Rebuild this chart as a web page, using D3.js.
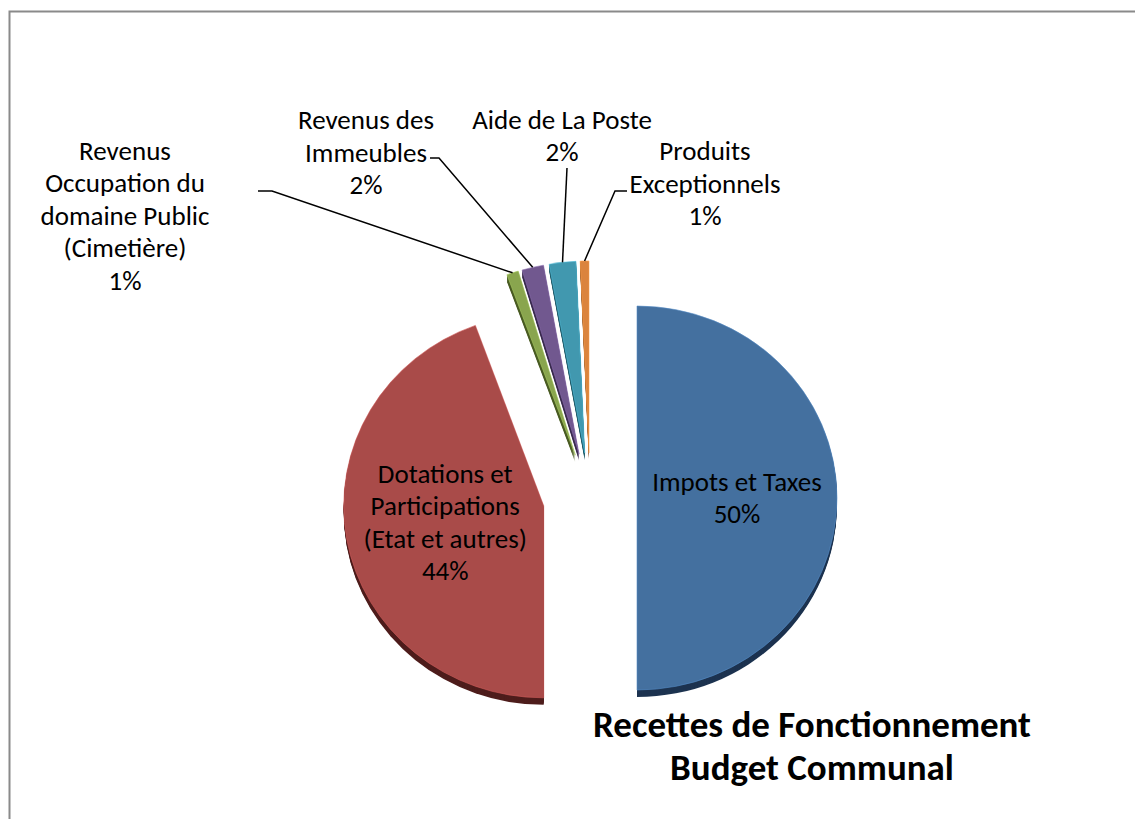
<!DOCTYPE html>
<html lang="fr">
<head>
<meta charset="UTF-8">
<title>Recettes de Fonctionnement</title>
<script src="https://d3js.org/d3.v7.min.js"></script>
<style>
  body { margin: 0; background: #fff; }
  text { font-family: Carlito, Calibri, "Open Sans", sans-serif; fill: #000; }
</style>
</head>
<body>
<svg width="1135" height="819"></svg>
<script>
// data
const categories = ["Impots et Taxes", "Dotations et Participations (Etat et autres)",
  "Revenus Occupation du domaine Public (Cimetière)", "Revenus des Immeubles",
  "Aide de La Poste", "Produits Exceptionnels"];
const values = [50.0, 44.45, 0.95, 1.75, 2.15, 0.7];
const labelLines = [
  ["Impots et Taxes", "50%"],
  ["Dotations et", "Participations", "(Etat et autres)", "44%"],
  ["Revenus", "Occupation du", "domaine Public", "(Cimetière)", "1%"],
  ["Revenus des", "Immeubles", "2%"],
  ["Aide de La Poste", "2%"],
  ["Produits", "Exceptionnels", "1%"]
];

// styles
const topColors = ["#44709f", "#a94b49", "#89a54e", "#71588f", "#4198af", "#db843d"];
const sideColors = ["#1d3350", "#4e1d1c", "#4a5c24", "#3a2b4f", "#1f5866", "#7d4519"];

const svg = d3.select("svg");

// chart frame (runs off the right and bottom edges)
svg.append("rect")
    .attr("x", 9.5).attr("y", 11.5)
    .attr("width", 1200).attr("height", 900)
    .attr("fill", "none")
    .attr("stroke", "#8a8a8a")
    .attr("stroke-width", 2);

const cx = 590, cy = 498;   // pie centre
const r = 200;              // outer radius
const ky = 0.96;            // vertical squash of the tilted pie
const explode = 47;
const depth = 7;

const pie = d3.pie().sort(null).value(d => d);
const arcs = pie(values);
const arc = d3.arc().innerRadius(0).outerRadius(r);

// apex of each exploded slice
function apex(a) {
    const m = (a.startAngle + a.endAngle) / 2;
    return [cx + explode * Math.sin(m), cy - explode * Math.cos(m) * ky];
}
// point on the outer rim at mid angle
function rimPoint(a) {
    const m = (a.startAngle + a.endAngle) / 2;
    const p = apex(a);
    return [p[0] + r * Math.sin(m), p[1] - r * Math.cos(m) * ky];
}

// side walls: stack of shifted copies
const sides = svg.append("g");
arcs.forEach((a, i) => {
    const p = apex(a);
    for (let d = depth; d >= 1; d--) {
        sides.append("path")
            .attr("transform", `translate(${p[0]},${p[1] + d}) scale(1,${ky})`)
            .attr("d", arc(a))
            .attr("fill", sideColors[i]);
    }
});

// top faces
const tops = svg.append("g");
arcs.forEach((a, i) => {
    const p = apex(a);
    tops.append("path")
        .attr("transform", `translate(${p[0]},${p[1]}) scale(1,${ky})`)
        .attr("d", arc(a))
        .attr("fill", topColors[i])
        .attr("stroke", d3.color(topColors[i]).brighter(0.6))
        .attr("stroke-width", 0.6);
});

const fontSize = 27, lineH = 32.5;

function drawLabel(lines, x, yCenter) {
    const t = svg.append("text")
        .attr("text-anchor", "middle")
        .attr("font-size", fontSize);
    const y0 = yCenter - (lines.length - 1) * lineH / 2;
    lines.forEach((s, k) => {
        t.append("tspan")
            .attr("x", x)
            .attr("y", y0 + k * lineH)
            .attr("dy", "0.33em")
            .text(s);
    });
}

// labels inside the two big slices, at the slice centroid
[0, 1].forEach(i => {
    const p = apex(arcs[i]);
    const c = arc.centroid(arcs[i]);
    drawLabel(labelLines[i], p[0] + c[0], p[1] + c[1] * ky);
});

// outside labels for the small slices
const outside = [
    { i: 2, x: 125, y: 216, lead: [[258, 191], [272, 191]] },
    { i: 3, x: 366, y: 153, lead: [[430, 158], [439, 158]] },
    { i: 4, x: 562, y: 136, lead: [[567, 168]] },
    { i: 5, x: 705, y: 184, lead: [[627, 191], [615, 191]] }
];
outside.forEach(o => {
    drawLabel(labelLines[o.i], o.x, o.y);
    const pts = o.lead.concat([rimPoint(arcs[o.i])]);
    svg.append("path")
        .attr("d", d3.line()(pts))
        .attr("fill", "none")
        .attr("stroke", "#000")
        .attr("stroke-width", 1.5);
});

// title
svg.append("text")
    .attr("text-anchor", "middle")
    .attr("font-size", 37)
    .attr("font-weight", "bold")
    .selectAll("tspan")
    .data(["Recettes de Fonctionnement", "Budget Communal"])
    .join("tspan")
    .attr("x", 812)
    .attr("y", (d, k) => 737 + k * 43)
    .text(d => d);
</script>
</body>
</html>
